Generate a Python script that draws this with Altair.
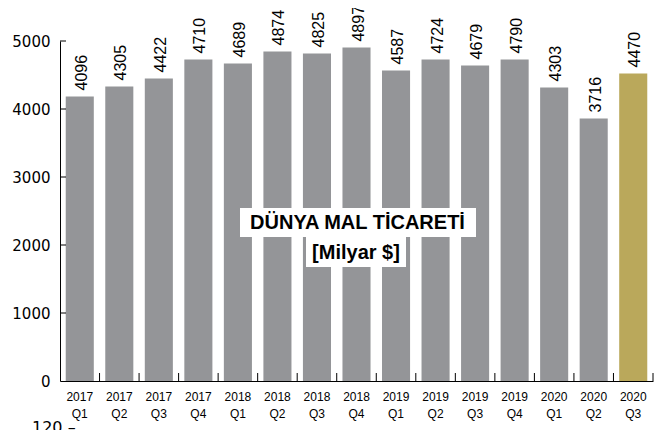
import altair as alt
import pandas as pd

periods = ["2017 Q1", "2017 Q2", "2017 Q3", "2017 Q4",
           "2018 Q1", "2018 Q2", "2018 Q3", "2018 Q4",
           "2019 Q1", "2019 Q2", "2019 Q3", "2019 Q4",
           "2020 Q1", "2020 Q2", "2020 Q3"]
# bar heights as drawn in the picture
bar_heights = [4184, 4331, 4449, 4728, 4669, 4846, 4816, 4904,
               4566, 4728, 4640, 4728, 4316, 3860, 4522]
# value labels printed above bars
value_labels = ["4096", "4305", "4422", "4710", "4689", "4874", "4825", "4897",
                "4587", "4724", "4679", "4790", "4303", "3716", "4470"]
bar_colors = ["#949598"] * 14 + ["#BAA85B"]
y_ticks = [1000, 2000, 3000, 4000, 5000]

df = pd.DataFrame({"period": periods, "value": bar_heights,
                   "label": value_labels, "color": bar_colors})

W, H = 593, 340

x_bars = alt.X("period:N", sort=periods, title=None,
               scale=alt.Scale(paddingInner=0.29, paddingOuter=0.145),
               axis=alt.Axis(labelAngle=0, ticks=False, domain=True, domainColor="black",
                             labelExpr="split(datum.label, ' ')",
                             labelFont="Liberation Sans Narrow, Liberation Sans",
                             labelFontSize=12, labelLineHeight=17, labelPadding=10,
                             labelColor="black", labelBaseline="top"))
y_enc = alt.Y("value:Q", title=None,
              scale=alt.Scale(domain=[0, 5000], nice=False, zero=True),
              axis=alt.Axis(values=[0] + y_ticks, format="d", ticks=False, grid=False,
                            domainColor="black",
                            labelFont="DejaVu Sans", labelFontSize=15, labelPadding=10,
                            labelColor="black"))

bars = alt.Chart(df).mark_bar().encode(
    x=x_bars, y=y_enc, color=alt.Color("color:N", scale=None))

labels = alt.Chart(df).mark_text(angle=270, align="left", baseline="middle", dx=6, dy=2,
                                 font="Liberation Sans", fontSize=16, color="black").encode(
    x=alt.X("period:N", sort=periods), y=alt.Y("value:Q"), text="label:N")

# inward ticks on the y axis
ytick_df = pd.DataFrame({"v": y_ticks})
yticks = alt.Chart(ytick_df).mark_rule(color="black", strokeWidth=1).encode(
    y=alt.Y("v:Q"), x=alt.value(0), x2=alt.value(6))

# title boxes
box_df = pd.DataFrame({"x": [180, 246], "x2": [416, 346], "y": [167, 196], "y2": [196, 226]})
boxes = alt.Chart(box_df).mark_rect(color="white").encode(
    x=alt.X("x:Q", scale=None), x2="x2:Q", y=alt.Y("y:Q", scale=None), y2="y2:Q")

title1 = alt.Chart(pd.DataFrame({"t": ["DÜNYA MAL TİCARETİ"]})).mark_text(
    font="Liberation Sans", fontWeight="bold", fontSize=20, color="black",
    align="center", baseline="middle").encode(
    text="t:N", x=alt.value(297.5), y=alt.value(182))
title2 = alt.Chart(pd.DataFrame({"t": ["[Milyar $]"]})).mark_text(
    font="Liberation Sans", fontWeight="bold", fontSize=20, color="black",
    align="center", baseline="middle").encode(
    text="t:N", x=alt.value(296), y=alt.value(212))

bottom = alt.Chart(pd.DataFrame({"t": ["120 –"]})).mark_text(
    font="DejaVu Sans", fontSize=16, color="black", align="left", baseline="top").encode(
    text="t:N", x=alt.value(-28), y=alt.value(379))

main = alt.layer(bars, labels, yticks, boxes, title1, title2, bottom)

# upward tick marks on the x axis at the boundaries between bars
tick_df = pd.DataFrame({"i": list(range(1, len(periods) + 1))})
xticks = alt.Chart(tick_df).mark_rule(color="black", strokeWidth=1).encode(
    x=alt.X("i:Q", axis=None, scale=alt.Scale(domain=[0, len(periods)], nice=False, zero=True)),
    y=alt.value(H), y2=alt.value(H - 8))

chart = alt.layer(main, xticks).resolve_scale(x="independent").properties(
    width=W, height=H,
    padding={"left": 52, "top": 33, "right": 3, "bottom": 60},
    autosize="none",
).configure_view(stroke=None)

chart.save("out.html", embed_options={"renderer": "svg", "actions": False})
